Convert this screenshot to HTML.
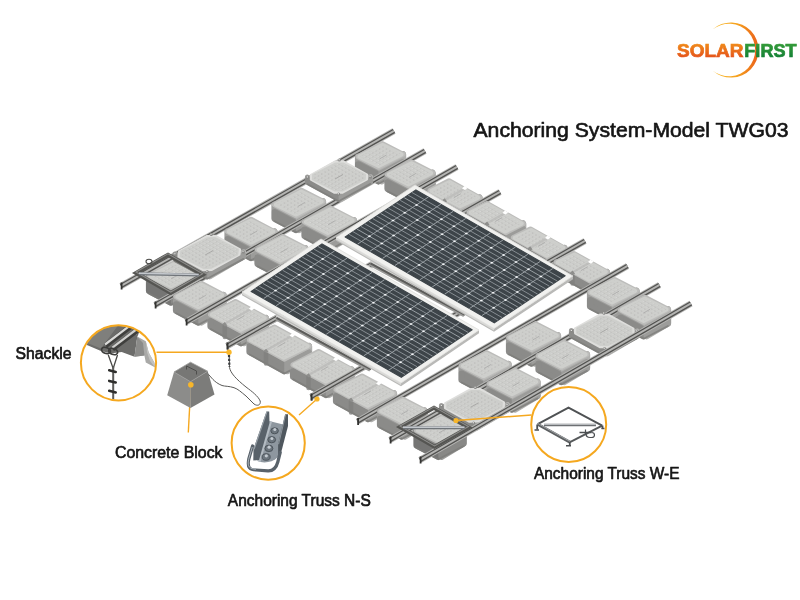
<!DOCTYPE html>
<html><head><meta charset="utf-8"><title>Anchoring System-Model TWG03</title>
<style>
html,body{margin:0;padding:0;background:#fff}
body{width:800px;height:600px;overflow:hidden;position:relative;font-family:"Liberation Sans",sans-serif;color:#1d1d1d}
svg{position:absolute;left:0;top:0;display:block;will-change:transform}
.t{position:absolute;white-space:nowrap;line-height:1;color:#1a1a1a}
</style></head><body>
<svg width="800" height="600" viewBox="0 0 800 600">
<defs>
<pattern id="dm" width="3.4" height="3.4" patternUnits="userSpaceOnUse" patternTransform="matrix(1,-0.568,1,0.575,121,286)"><rect x=".5" y=".5" width="2.1" height="2.1" rx=".6" fill="#c1c1bf"/><rect x=".5" y=".5" width="1.3" height="1.3" rx=".5" fill="#d8d8d6"/></pattern>
<linearGradient id="gL" x1="0" y1="0" x2="0" y2="1"><stop offset="0" stop-color="#b4b4b2"/><stop offset=".35" stop-color="#a2a2a0"/><stop offset="1" stop-color="#8a8a88"/></linearGradient>
<linearGradient id="gR" x1="0" y1="0" x2="0" y2="1"><stop offset="0" stop-color="#c4c4c2"/><stop offset=".4" stop-color="#b2b2b0"/><stop offset="1" stop-color="#939391"/></linearGradient>
<linearGradient id="lgO" x1="0" y1="0" x2="0" y2="1"><stop offset="0" stop-color="#f39a1a"/><stop offset="1" stop-color="#e2451b"/></linearGradient>
<linearGradient id="lgG" x1="0" y1="0" x2="0" y2="1"><stop offset="0" stop-color="#3da23a"/><stop offset="1" stop-color="#0c7a35"/></linearGradient>
<linearGradient id="lgA" x1="0" y1="0" x2="1" y2="0"><stop offset="0" stop-color="#f9bb2a"/><stop offset=".55" stop-color="#f5a01e"/><stop offset="1" stop-color="#ea5f1a"/></linearGradient>
<clipPath id="c1"><circle cx="118.5" cy="362.8" r="37"/></clipPath>
<clipPath id="c2"><circle cx="268.2" cy="443.1" r="36"/></clipPath>
<clipPath id="c3"><circle cx="568.7" cy="424.5" r="37"/></clipPath>
</defs>
<rect width="800" height="600" fill="#fff"/>
<!-- scene -->
<g stroke-linecap="butt"><path d="M121.0 286.0 L394.0 131.0" stroke="#b6b6b4" stroke-width="6.4"/><path d="M121.0 286.0 L394.0 131.0" stroke="#525250" stroke-width="4.5"/><path d="M121.0 285.9 L394.0 130.9" stroke="#b4b4b2" stroke-width="1.9"/><path d="M121.6 282.5 l0 7" stroke="#333331" stroke-width="1.8"/></g>
<g><polygon points="149.1,276.0 170.8,287.3 195.4,274.4 195.4,289.4 170.8,302.3 149.1,291.0" fill="#858583" stroke="#858583" stroke-width="6.4" stroke-linejoin="round"/><polygon points="174.0,287.3 195.4,274.4 195.4,289.4 174.0,302.3" fill="#9a9a98" stroke="#9a9a98" stroke-width="6.4" stroke-linejoin="round"/><polygon points="149.1,284.2 170.8,295.6 195.4,282.6 195.4,289.4 170.8,302.3 149.1,291.0" fill="#000" opacity=".11" stroke="#000" stroke-width="6.4" stroke-linejoin="round"/><polyline points="149.1,293.6 170.8,304.9 195.4,292.0" fill="none" stroke="#7c7c7a" stroke-width="1.8" stroke-linecap="round" stroke-linejoin="round" opacity=".75"/><polygon points="149.1,276.0 173.7,263.0 195.4,274.4 170.8,287.3" fill="#bdbdbb" stroke="#bdbdbb" stroke-width="5.2" stroke-linejoin="round"/><polygon points="150.4,276.0 173.5,264.3 194.1,274.4 171.0,286.0" fill="#cecfcc" stroke="#cecfcc" stroke-width="4.2" stroke-linejoin="round"/><polygon points="150.3,276.0 173.6,264.2 194.2,274.4 170.9,286.1" fill="url(#dm)"/><path d="M171.2 278.7 l7 -4" stroke="#adadab" stroke-width=".9"/></g>
<g><polygon points="358.1,156.7 378.4,167.2 402.9,154.3 402.9,168.3 378.4,181.2 358.1,170.7" fill="#9d9d9b" stroke="#9d9d9b" stroke-width="6.4" stroke-linejoin="round"/><polygon points="381.6,167.2 402.9,154.3 402.9,168.3 381.6,181.2" fill="#b0b0ae" stroke="#b0b0ae" stroke-width="6.4" stroke-linejoin="round"/><polygon points="358.1,164.4 378.4,174.9 402.9,162.0 402.9,168.3 378.4,181.2 358.1,170.7" fill="#000" opacity=".11" stroke="#000" stroke-width="6.4" stroke-linejoin="round"/><polyline points="358.1,173.3 378.4,183.8 402.9,170.9" fill="none" stroke="#7c7c7a" stroke-width="1.8" stroke-linecap="round" stroke-linejoin="round" opacity=".75"/><polygon points="358.1,156.7 382.6,143.7 402.9,154.3 378.4,167.2" fill="#bdbdbb" stroke="#bdbdbb" stroke-width="5.2" stroke-linejoin="round"/><polygon points="359.4,156.6 382.3,145.0 401.6,154.3 378.7,165.9" fill="#cecfcc" stroke="#cecfcc" stroke-width="4.2" stroke-linejoin="round"/><polygon points="359.3,156.6 382.3,144.9 401.7,154.3 378.7,166.0" fill="url(#dm)"/><path d="M379.5 159.0 l7 -4" stroke="#adadab" stroke-width=".9"/></g>
<g><polygon points="274.6,204.6 296.0,215.8 322.9,201.4 322.9,215.4 296.0,229.8 274.6,218.6" fill="#9d9d9b" stroke="#9d9d9b" stroke-width="6.4" stroke-linejoin="round"/><polygon points="299.2,215.8 322.9,201.4 322.9,215.4 299.2,229.8" fill="#b0b0ae" stroke="#b0b0ae" stroke-width="6.4" stroke-linejoin="round"/><polygon points="274.6,212.3 296.0,223.5 322.9,209.1 322.9,215.4 296.0,229.8 274.6,218.6" fill="#000" opacity=".11" stroke="#000" stroke-width="6.4" stroke-linejoin="round"/><polyline points="274.6,221.2 296.0,232.4 322.9,218.0" fill="none" stroke="#7c7c7a" stroke-width="1.8" stroke-linecap="round" stroke-linejoin="round" opacity=".75"/><polygon points="274.6,204.6 301.5,190.3 322.9,201.4 296.0,215.8" fill="#bdbdbb" stroke="#bdbdbb" stroke-width="5.2" stroke-linejoin="round"/><polygon points="275.9,204.5 301.2,191.6 321.6,201.5 296.3,214.5" fill="#cecfcc" stroke="#cecfcc" stroke-width="4.2" stroke-linejoin="round"/><polygon points="275.8,204.6 301.2,191.5 321.7,201.5 296.3,214.6" fill="url(#dm)"/><path d="M297.8 206.5 l7 -4" stroke="#adadab" stroke-width=".9"/></g>
<g><polygon points="227.6,231.5 251.0,243.8 274.4,231.7 274.4,245.7 251.0,257.9 227.6,245.5" fill="#9d9d9b" stroke="#9d9d9b" stroke-width="6.4" stroke-linejoin="round"/><polygon points="254.2,243.8 274.4,231.7 274.4,245.7 254.2,257.9" fill="#b0b0ae" stroke="#b0b0ae" stroke-width="6.4" stroke-linejoin="round"/><polygon points="227.6,239.2 251.0,251.5 274.4,239.4 274.4,245.7 251.0,257.9 227.6,245.5" fill="#000" opacity=".11" stroke="#000" stroke-width="6.4" stroke-linejoin="round"/><polyline points="227.6,248.1 251.0,260.4 274.4,248.3" fill="none" stroke="#7c7c7a" stroke-width="1.8" stroke-linecap="round" stroke-linejoin="round" opacity=".75"/><polygon points="227.6,231.5 251.0,219.3 274.4,231.7 251.0,243.8" fill="#bdbdbb" stroke="#bdbdbb" stroke-width="5.2" stroke-linejoin="round"/><polygon points="228.9,231.5 251.0,220.6 273.1,231.7 251.0,242.5" fill="#cecfcc" stroke="#cecfcc" stroke-width="4.2" stroke-linejoin="round"/><polygon points="228.8,231.5 251.0,220.5 273.2,231.7 251.0,242.6" fill="url(#dm)"/><path d="M250.0 235.1 l7 -4" stroke="#adadab" stroke-width=".9"/></g>
<g stroke-linecap="butt"><path d="M155.0 305.0 L425.0 151.0" stroke="#b6b6b4" stroke-width="6.4"/><path d="M155.0 305.0 L425.0 151.0" stroke="#525250" stroke-width="4.5"/><path d="M155.0 304.9 L425.0 150.9" stroke="#b4b4b2" stroke-width="1.9"/><path d="M155.6 301.5 l0 7" stroke="#333331" stroke-width="1.8"/></g>
<g><polygon points="307.5,177.2 338.6,194.2 370.5,176.9 370.5,181.9 338.6,199.2 307.5,182.2" fill="#9d9d9b" stroke="#9d9d9b" stroke-width="5.2" stroke-linejoin="round"/><polygon points="341.2,194.2 370.5,176.9 370.5,181.9 341.2,199.2" fill="#b0b0ae" stroke="#b0b0ae" stroke-width="5.2" stroke-linejoin="round"/><polygon points="307.5,179.9 338.6,196.9 370.5,179.6 370.5,181.9 338.6,199.2 307.5,182.2" fill="#000" opacity=".11" stroke="#000" stroke-width="5.2" stroke-linejoin="round"/><polyline points="307.5,184.2 338.6,201.2 370.5,183.9" fill="none" stroke="#7c7c7a" stroke-width="1.8" stroke-linecap="round" stroke-linejoin="round" opacity=".75"/><polygon points="310.8,179.6 310.9,174.8 335.3,161.4 343.5,161.3 367.2,174.5 367.1,179.3 342.7,192.7 334.5,192.8" fill="#dededc" stroke="#dededc" stroke-width="2" stroke-linejoin="round"/><polygon points="313.0,179.4 313.1,174.9 335.8,163.5 342.9,163.4 365.0,174.7 364.9,179.1 342.2,190.6 335.1,190.6" fill="#cecfcc" stroke="#cecfcc" stroke-width="2" stroke-linejoin="round"/><polygon points="313.2,179.4 313.3,175.0 335.9,163.7 342.9,163.6 364.8,174.7 364.7,179.1 342.1,190.4 335.1,190.4" fill="url(#dm)"/><circle cx="307.7" cy="177.2" r="1.5" fill="#868684"/><circle cx="307.4" cy="176.9" r=".7" fill="#e4e4e2"/><circle cx="339.4" cy="160.1" r="1.5" fill="#868684"/><circle cx="339.1" cy="159.8" r=".7" fill="#e4e4e2"/><circle cx="370.3" cy="176.9" r="1.5" fill="#868684"/><circle cx="370.0" cy="176.6" r=".7" fill="#e4e4e2"/><circle cx="338.6" cy="194.0" r="1.5" fill="#868684"/><circle cx="338.3" cy="193.7" r=".7" fill="#e4e4e2"/><path d="M335.0 179.0 l8 -4.5" stroke="#a9a9a7" stroke-width="1"/></g>
<g><polygon points="175.0,254.1 207.2,271.7 243.5,251.9 243.5,256.9 207.2,276.7 175.0,259.1" fill="#9d9d9b" stroke="#9d9d9b" stroke-width="5.2" stroke-linejoin="round"/><polygon points="209.8,271.7 243.5,251.9 243.5,256.9 209.8,276.7" fill="#b0b0ae" stroke="#b0b0ae" stroke-width="5.2" stroke-linejoin="round"/><polygon points="175.0,256.9 207.2,274.5 243.5,254.7 243.5,256.9 207.2,276.7 175.0,259.1" fill="#000" opacity=".11" stroke="#000" stroke-width="5.2" stroke-linejoin="round"/><polyline points="175.0,261.1 207.2,278.7 243.5,258.9" fill="none" stroke="#7c7c7a" stroke-width="1.8" stroke-linecap="round" stroke-linejoin="round" opacity=".75"/><polygon points="178.4,256.6 179.0,251.4 206.6,236.1 215.6,235.8 240.1,249.4 239.5,254.6 211.9,269.9 202.9,270.2" fill="#dededc" stroke="#dededc" stroke-width="2" stroke-linejoin="round"/><polygon points="180.6,256.3 181.2,251.5 207.0,238.3 214.8,237.9 237.9,249.7 237.3,254.5 211.5,267.7 203.7,268.2" fill="#cecfcc" stroke="#cecfcc" stroke-width="2" stroke-linejoin="round"/><polygon points="180.8,256.3 181.4,251.5 207.0,238.5 214.7,238.0 237.7,249.7 237.1,254.5 211.5,267.5 203.8,268.0" fill="url(#dm)"/><circle cx="175.2" cy="254.1" r="1.5" fill="#868684"/><circle cx="174.9" cy="253.8" r=".7" fill="#e4e4e2"/><circle cx="211.3" cy="234.5" r="1.5" fill="#868684"/><circle cx="211.0" cy="234.2" r=".7" fill="#e4e4e2"/><circle cx="243.3" cy="251.9" r="1.5" fill="#868684"/><circle cx="243.0" cy="251.6" r=".7" fill="#e4e4e2"/><circle cx="207.2" cy="271.5" r="1.5" fill="#868684"/><circle cx="206.9" cy="271.2" r=".7" fill="#e4e4e2"/><path d="M205.2 255.0 l8 -4.5" stroke="#a9a9a7" stroke-width="1"/></g>
<g><polygon points="136.0,272.9 168.0,254.7 202.7,274.7 170.7,292.9" fill="none" stroke="#555552" stroke-width="4" stroke-linejoin="miter"/><polygon points="136.0,272.0 168.0,253.8 202.7,273.8 170.7,292.0" fill="none" stroke="#8c8c8a" stroke-width="1.1" stroke-linejoin="miter"/><path d="M139.0 273.7 L198.7 275.0" stroke="#70757a" stroke-width="3"/><path d="M139.0 273.2 L198.7 274.5" stroke="#c3c7cc" stroke-width="1.4"/></g>
<g><polygon points="387.6,174.8 408.4,185.6 432.4,172.9 432.4,186.9 408.4,199.6 387.6,188.8" fill="#9d9d9b" stroke="#9d9d9b" stroke-width="6.4" stroke-linejoin="round"/><polygon points="411.6,185.6 432.4,172.9 432.4,186.9 411.6,199.6" fill="#b0b0ae" stroke="#b0b0ae" stroke-width="6.4" stroke-linejoin="round"/><polygon points="387.6,182.5 408.4,193.3 432.4,180.6 432.4,186.9 408.4,199.6 387.6,188.8" fill="#000" opacity=".11" stroke="#000" stroke-width="6.4" stroke-linejoin="round"/><polyline points="387.6,191.4 408.4,202.2 432.4,189.5" fill="none" stroke="#7c7c7a" stroke-width="1.8" stroke-linecap="round" stroke-linejoin="round" opacity=".75"/><polygon points="387.6,174.8 411.6,162.1 432.4,172.9 408.4,185.6" fill="#bdbdbb" stroke="#bdbdbb" stroke-width="5.2" stroke-linejoin="round"/><polygon points="388.9,174.7 411.5,163.4 431.1,173.0 408.5,184.3" fill="#cecfcc" stroke="#cecfcc" stroke-width="4.2" stroke-linejoin="round"/><polygon points="388.8,174.7 411.5,163.3 431.2,173.0 408.5,184.4" fill="url(#dm)"/><path d="M409.0 177.4 l7 -4" stroke="#adadab" stroke-width=".9"/></g>
<g><polygon points="304.6,222.0 327.8,234.1 353.9,220.3 353.9,234.3 327.8,248.1 304.6,236.0" fill="#9d9d9b" stroke="#9d9d9b" stroke-width="6.4" stroke-linejoin="round"/><polygon points="331.0,234.1 353.9,220.3 353.9,234.3 331.0,248.1" fill="#b0b0ae" stroke="#b0b0ae" stroke-width="6.4" stroke-linejoin="round"/><polygon points="304.6,229.7 327.8,241.8 353.9,228.0 353.9,234.3 327.8,248.1 304.6,236.0" fill="#000" opacity=".11" stroke="#000" stroke-width="6.4" stroke-linejoin="round"/><polyline points="304.6,238.6 327.8,250.7 353.9,236.9" fill="none" stroke="#7c7c7a" stroke-width="1.8" stroke-linecap="round" stroke-linejoin="round" opacity=".75"/><polygon points="304.6,222.0 330.7,208.2 353.9,220.3 327.8,234.1" fill="#bdbdbb" stroke="#bdbdbb" stroke-width="5.2" stroke-linejoin="round"/><polygon points="305.9,221.9 330.6,209.5 352.6,220.4 327.9,232.8" fill="#cecfcc" stroke="#cecfcc" stroke-width="4.2" stroke-linejoin="round"/><polygon points="305.8,221.9 330.6,209.4 352.7,220.4 327.9,232.9" fill="url(#dm)"/><path d="M328.2 224.6 l7 -4" stroke="#adadab" stroke-width=".9"/></g>
<g><polygon points="257.6,249.8 280.3,261.7 305.4,248.4 305.4,262.4 280.3,275.7 257.6,263.8" fill="#9d9d9b" stroke="#9d9d9b" stroke-width="6.4" stroke-linejoin="round"/><polygon points="283.5,261.7 305.4,248.4 305.4,262.4 283.5,275.7" fill="#b0b0ae" stroke="#b0b0ae" stroke-width="6.4" stroke-linejoin="round"/><polygon points="257.6,257.5 280.3,269.4 305.4,256.1 305.4,262.4 280.3,275.7 257.6,263.8" fill="#000" opacity=".11" stroke="#000" stroke-width="6.4" stroke-linejoin="round"/><polyline points="257.6,266.4 280.3,278.3 305.4,265.0" fill="none" stroke="#7c7c7a" stroke-width="1.8" stroke-linecap="round" stroke-linejoin="round" opacity=".75"/><polygon points="257.6,249.8 282.7,236.6 305.4,248.4 280.3,261.7" fill="#bdbdbb" stroke="#bdbdbb" stroke-width="5.2" stroke-linejoin="round"/><polygon points="258.9,249.8 282.6,237.9 304.1,248.5 280.4,260.4" fill="#cecfcc" stroke="#cecfcc" stroke-width="4.2" stroke-linejoin="round"/><polygon points="258.8,249.8 282.6,237.8 304.2,248.5 280.4,260.5" fill="url(#dm)"/><path d="M280.5 252.6 l7 -4" stroke="#adadab" stroke-width=".9"/></g>
<g><polygon points="176.1,296.7 198.3,308.3 223.4,295.0 223.4,309.0 198.3,322.3 176.1,310.7" fill="#9d9d9b" stroke="#9d9d9b" stroke-width="6.4" stroke-linejoin="round"/><polygon points="201.5,308.3 223.4,295.0 223.4,309.0 201.5,322.3" fill="#b0b0ae" stroke="#b0b0ae" stroke-width="6.4" stroke-linejoin="round"/><polygon points="176.1,304.4 198.3,316.0 223.4,302.7 223.4,309.0 198.3,322.3 176.1,310.7" fill="#000" opacity=".11" stroke="#000" stroke-width="6.4" stroke-linejoin="round"/><polyline points="176.1,313.3 198.3,324.9 223.4,311.6" fill="none" stroke="#7c7c7a" stroke-width="1.8" stroke-linecap="round" stroke-linejoin="round" opacity=".75"/><polygon points="176.1,296.7 201.2,283.4 223.4,295.0 198.3,308.3" fill="#bdbdbb" stroke="#bdbdbb" stroke-width="5.2" stroke-linejoin="round"/><polygon points="177.4,296.6 201.0,284.7 222.1,295.1 198.5,307.0" fill="#cecfcc" stroke="#cecfcc" stroke-width="4.2" stroke-linejoin="round"/><polygon points="177.3,296.6 201.1,284.6 222.2,295.1 198.4,307.1" fill="url(#dm)"/><path d="M198.8 299.3 l7 -4" stroke="#adadab" stroke-width=".9"/></g>
<g stroke-linecap="butt"><path d="M186.0 322.0 L457.0 167.0" stroke="#b6b6b4" stroke-width="6.4"/><path d="M186.0 322.0 L457.0 167.0" stroke="#525250" stroke-width="4.5"/><path d="M186.0 321.9 L457.0 166.9" stroke="#b4b4b2" stroke-width="1.9"/><path d="M186.6 318.5 l0 7" stroke="#333331" stroke-width="1.8"/></g>
<g><polygon points="430.1,190.6 460.5,207.4 479.4,197.7 479.4,207.7 460.5,217.4 430.1,200.6" fill="#9d9d9b" stroke="#9d9d9b" stroke-width="6.4" stroke-linejoin="round"/><polygon points="463.7,207.4 479.4,197.7 479.4,207.7 463.7,217.4" fill="#b0b0ae" stroke="#b0b0ae" stroke-width="6.4" stroke-linejoin="round"/><polygon points="430.1,196.1 460.5,212.9 479.4,203.2 479.4,207.7 460.5,217.4 430.1,200.6" fill="#000" opacity=".11" stroke="#000" stroke-width="6.4" stroke-linejoin="round"/><polyline points="430.1,203.2 460.5,220.0 479.4,210.3" fill="none" stroke="#7c7c7a" stroke-width="1.8" stroke-linecap="round" stroke-linejoin="round" opacity=".75"/><path d="M444.5 202.0 l0 9.0" stroke="#80807e" stroke-width="4.5" stroke-linecap="round" opacity=".8"/><polygon points="430.1,190.6 449.0,180.9 479.4,197.7 460.5,207.4" fill="#bdbdbb" stroke="#bdbdbb" stroke-width="5.2" stroke-linejoin="round"/><polygon points="431.4,190.8 449.5,182.1 478.1,197.5 460.0,206.2" fill="#cecfcc" stroke="#cecfcc" stroke-width="4.2" stroke-linejoin="round"/><polygon points="431.3,190.7 449.5,182.0 478.2,197.6 460.0,206.3" fill="url(#dm)"/><path d="M444.5 200.0 L465.0 188.3" stroke="#b9b9b7" stroke-width="2.2" opacity=".7"/><path d="M464.4 186.1 l3.2 1.8 l-2.6 2.2 l-3 -1.6z" fill="#fff"/><path d="M442.1 200.2 l2.6 -2 l2.4 3.4 l-2.4 1z" fill="#8e8e8c"/><path d="M453.8 197.7 l7 -4" stroke="#adadab" stroke-width=".9"/></g>
<g stroke-linecap="butt"><path d="M227.0 346.0 L500.0 192.0" stroke="#b6b6b4" stroke-width="6.4"/><path d="M227.0 346.0 L500.0 192.0" stroke="#525250" stroke-width="4.5"/><path d="M227.0 345.9 L500.0 191.9" stroke="#b4b4b2" stroke-width="1.9"/><path d="M227.6 342.5 l0 7" stroke="#333331" stroke-width="1.8"/></g>
<g><polygon points="469.5,212.3 505.6,232.6 523.0,223.7 523.0,233.7 505.6,242.6 469.5,222.3" fill="#9d9d9b" stroke="#9d9d9b" stroke-width="6.4" stroke-linejoin="round"/><polygon points="508.8,232.6 523.0,223.7 523.0,233.7 508.8,242.6" fill="#b0b0ae" stroke="#b0b0ae" stroke-width="6.4" stroke-linejoin="round"/><polygon points="469.5,217.8 505.6,238.1 523.0,229.2 523.0,233.7 505.6,242.6 469.5,222.3" fill="#000" opacity=".11" stroke="#000" stroke-width="6.4" stroke-linejoin="round"/><polyline points="469.5,224.9 505.6,245.2 523.0,236.3" fill="none" stroke="#7c7c7a" stroke-width="1.8" stroke-linecap="round" stroke-linejoin="round" opacity=".75"/><path d="M487.0 225.3 l0 9.0" stroke="#80807e" stroke-width="4.5" stroke-linecap="round" opacity=".8"/><polygon points="469.5,212.3 486.9,203.5 523.0,223.7 505.6,232.6" fill="#bdbdbb" stroke="#bdbdbb" stroke-width="5.2" stroke-linejoin="round"/><polygon points="470.8,212.6 487.6,204.5 521.7,223.5 504.9,231.5" fill="#cecfcc" stroke="#cecfcc" stroke-width="4.2" stroke-linejoin="round"/><polygon points="470.7,212.6 487.6,204.5 521.8,223.5 504.9,231.6" fill="url(#dm)"/><path d="M487.0 223.3 L505.5 212.8" stroke="#b9b9b7" stroke-width="2.2" opacity=".7"/><path d="M504.9 210.6 l3.2 1.8 l-2.6 2.2 l-3 -1.6z" fill="#fff"/><path d="M484.6 223.5 l2.6 -2 l2.4 3.4 l-2.4 1z" fill="#8e8e8c"/><path d="M495.2 221.5 l7 -4" stroke="#adadab" stroke-width=".9"/></g>
<g><polygon points="513.5,237.6 547.6,256.7 564.5,248.2 564.5,258.2 547.6,266.7 513.5,247.6" fill="#9d9d9b" stroke="#9d9d9b" stroke-width="6.4" stroke-linejoin="round"/><polygon points="550.8,256.7 564.5,248.2 564.5,258.2 550.8,266.7" fill="#b0b0ae" stroke="#b0b0ae" stroke-width="6.4" stroke-linejoin="round"/><polygon points="513.5,243.1 547.6,262.2 564.5,253.7 564.5,258.2 547.6,266.7 513.5,247.6" fill="#000" opacity=".11" stroke="#000" stroke-width="6.4" stroke-linejoin="round"/><polyline points="513.5,250.2 547.6,269.3 564.5,260.8" fill="none" stroke="#7c7c7a" stroke-width="1.8" stroke-linecap="round" stroke-linejoin="round" opacity=".75"/><path d="M530.0 250.0 l0 9.0" stroke="#80807e" stroke-width="4.5" stroke-linecap="round" opacity=".8"/><polygon points="513.5,237.6 530.4,229.1 564.5,248.2 547.6,256.7" fill="#bdbdbb" stroke="#bdbdbb" stroke-width="5.2" stroke-linejoin="round"/><polygon points="514.8,237.9 531.1,230.2 563.2,247.9 546.9,255.6" fill="#cecfcc" stroke="#cecfcc" stroke-width="4.2" stroke-linejoin="round"/><polygon points="514.7,237.8 531.0,230.1 563.3,247.9 547.0,255.7" fill="url(#dm)"/><path d="M530.0 248.0 L548.0 237.8" stroke="#b9b9b7" stroke-width="2.2" opacity=".7"/><path d="M547.4 235.6 l3.2 1.8 l-2.6 2.2 l-3 -1.6z" fill="#fff"/><path d="M527.6 248.2 l2.6 -2 l2.4 3.4 l-2.4 1z" fill="#8e8e8c"/><path d="M538.0 246.4 l7 -4" stroke="#adadab" stroke-width=".9"/></g>
<g stroke-linecap="butt"><path d="M311.0 397.0 L585.0 241.0" stroke="#b6b6b4" stroke-width="6.4"/><path d="M311.0 397.0 L585.0 241.0" stroke="#525250" stroke-width="4.5"/><path d="M311.0 396.9 L585.0 240.9" stroke="#b4b4b2" stroke-width="1.9"/><path d="M311.6 393.5 l0 7" stroke="#333331" stroke-width="1.8"/></g>
<g><polygon points="556.6,262.3 589.7,280.8 606.9,272.1 606.9,282.1 589.7,290.8 556.6,272.3" fill="#9d9d9b" stroke="#9d9d9b" stroke-width="6.4" stroke-linejoin="round"/><polygon points="592.9,280.8 606.9,272.1 606.9,282.1 592.9,290.8" fill="#b0b0ae" stroke="#b0b0ae" stroke-width="6.4" stroke-linejoin="round"/><polygon points="556.6,267.8 589.7,286.3 606.9,277.6 606.9,282.1 589.7,290.8 556.6,272.3" fill="#000" opacity=".11" stroke="#000" stroke-width="6.4" stroke-linejoin="round"/><polyline points="556.6,274.9 589.7,293.4 606.9,284.7" fill="none" stroke="#7c7c7a" stroke-width="1.8" stroke-linecap="round" stroke-linejoin="round" opacity=".75"/><path d="M572.5 274.4 l0 9.0" stroke="#80807e" stroke-width="4.5" stroke-linecap="round" opacity=".8"/><polygon points="556.6,262.3 573.8,253.5 606.9,272.1 589.7,280.8" fill="#bdbdbb" stroke="#bdbdbb" stroke-width="5.2" stroke-linejoin="round"/><polygon points="557.8,262.5 574.5,254.7 605.7,271.8 589.0,279.7" fill="#cecfcc" stroke="#cecfcc" stroke-width="4.2" stroke-linejoin="round"/><polygon points="557.7,262.5 574.4,254.6 605.8,271.8 589.1,279.8" fill="url(#dm)"/><path d="M572.5 272.4 L591.0 261.9" stroke="#b9b9b7" stroke-width="2.2" opacity=".7"/><path d="M590.4 259.7 l3.2 1.8 l-2.6 2.2 l-3 -1.6z" fill="#fff"/><path d="M570.1 272.6 l2.6 -2 l2.4 3.4 l-2.4 1z" fill="#8e8e8c"/><path d="M580.8 270.7 l7 -4" stroke="#adadab" stroke-width=".9"/></g>
<g><polygon points="210.6,314.5 241.0,331.0 265.9,318.1 265.9,330.1 241.0,343.0 210.6,326.5" fill="#9d9d9b" stroke="#9d9d9b" stroke-width="6.4" stroke-linejoin="round"/><polygon points="244.2,331.0 265.9,318.1 265.9,330.1 244.2,343.0" fill="#b0b0ae" stroke="#b0b0ae" stroke-width="6.4" stroke-linejoin="round"/><polygon points="210.6,321.1 241.0,337.6 265.9,324.7 265.9,330.1 241.0,343.0 210.6,326.5" fill="#000" opacity=".11" stroke="#000" stroke-width="6.4" stroke-linejoin="round"/><polyline points="210.6,329.1 241.0,345.6 265.9,332.7" fill="none" stroke="#7c7c7a" stroke-width="1.8" stroke-linecap="round" stroke-linejoin="round" opacity=".75"/><path d="M224.8 325.9 l0 11.0" stroke="#80807e" stroke-width="4.5" stroke-linecap="round" opacity=".8"/><polygon points="210.6,314.5 235.5,301.5 265.9,318.1 241.0,331.0" fill="#bdbdbb" stroke="#bdbdbb" stroke-width="5.2" stroke-linejoin="round"/><polygon points="211.9,314.6 235.7,302.8 264.6,318.0 240.8,329.7" fill="#cecfcc" stroke="#cecfcc" stroke-width="4.2" stroke-linejoin="round"/><polygon points="211.8,314.6 235.7,302.7 264.7,318.0 240.8,329.8" fill="url(#dm)"/><path d="M224.8 323.9 L251.8 308.6" stroke="#b9b9b7" stroke-width="2.2" opacity=".7"/><path d="M251.2 306.4 l3.2 1.8 l-2.6 2.2 l-3 -1.6z" fill="#fff"/><path d="M222.3 324.1 l2.6 -2 l2.4 3.4 l-2.4 1z" fill="#8e8e8c"/><path d="M237.2 319.8 l7 -4" stroke="#adadab" stroke-width=".9"/></g>
<g stroke-linecap="butt"><path d="M227.0 346.0 L287.0 312.2" stroke="#b6b6b4" stroke-width="6.4"/><path d="M227.0 346.0 L287.0 312.2" stroke="#525250" stroke-width="4.5"/><path d="M227.0 345.9 L287.0 312.1" stroke="#b4b4b2" stroke-width="1.9"/><path d="M227.6 342.5 l0 7" stroke="#333331" stroke-width="1.8"/></g>
<g><polygon points="249.6,339.9 284.2,359.0 308.9,346.1 308.9,358.1 284.2,371.0 249.6,351.9" fill="#9d9d9b" stroke="#9d9d9b" stroke-width="6.4" stroke-linejoin="round"/><polygon points="287.4,359.0 308.9,346.1 308.9,358.1 287.4,371.0" fill="#b0b0ae" stroke="#b0b0ae" stroke-width="6.4" stroke-linejoin="round"/><polygon points="249.6,346.5 284.2,365.6 308.9,352.7 308.9,358.1 284.2,371.0 249.6,351.9" fill="#000" opacity=".11" stroke="#000" stroke-width="6.4" stroke-linejoin="round"/><polyline points="249.6,354.5 284.2,373.6 308.9,360.7" fill="none" stroke="#7c7c7a" stroke-width="1.8" stroke-linecap="round" stroke-linejoin="round" opacity=".75"/><path d="M266.0 352.5 l0 11.0" stroke="#80807e" stroke-width="4.5" stroke-linecap="round" opacity=".8"/><polygon points="249.6,339.9 274.3,327.0 308.9,346.1 284.2,359.0" fill="#bdbdbb" stroke="#bdbdbb" stroke-width="5.2" stroke-linejoin="round"/><polygon points="250.9,340.0 274.7,328.3 307.6,346.0 283.8,357.7" fill="#cecfcc" stroke="#cecfcc" stroke-width="4.2" stroke-linejoin="round"/><polygon points="250.8,340.0 274.6,328.2 307.7,346.0 283.9,357.8" fill="url(#dm)"/><path d="M266.0 350.5 L292.5 335.5" stroke="#b9b9b7" stroke-width="2.2" opacity=".7"/><path d="M291.9 333.3 l3.2 1.8 l-2.6 2.2 l-3 -1.6z" fill="#fff"/><path d="M263.6 350.7 l2.6 -2 l2.4 3.4 l-2.4 1z" fill="#8e8e8c"/><path d="M278.2 346.5 l7 -4" stroke="#adadab" stroke-width=".9"/></g>
<g><polygon points="293.1,364.8 325.9,382.8 351.4,369.5 351.4,381.5 325.9,394.8 293.1,376.8" fill="#9d9d9b" stroke="#9d9d9b" stroke-width="6.4" stroke-linejoin="round"/><polygon points="329.1,382.8 351.4,369.5 351.4,381.5 329.1,394.8" fill="#b0b0ae" stroke="#b0b0ae" stroke-width="6.4" stroke-linejoin="round"/><polygon points="293.1,371.4 325.9,389.4 351.4,376.1 351.4,381.5 325.9,394.8 293.1,376.8" fill="#000" opacity=".11" stroke="#000" stroke-width="6.4" stroke-linejoin="round"/><polyline points="293.1,379.4 325.9,397.4 351.4,384.1" fill="none" stroke="#7c7c7a" stroke-width="1.8" stroke-linecap="round" stroke-linejoin="round" opacity=".75"/><path d="M308.5 377.0 l0 11.0" stroke="#80807e" stroke-width="4.5" stroke-linecap="round" opacity=".8"/><polygon points="293.1,364.8 318.6,351.5 351.4,369.5 325.9,382.8" fill="#bdbdbb" stroke="#bdbdbb" stroke-width="5.2" stroke-linejoin="round"/><polygon points="294.4,364.9 318.9,352.8 350.1,369.4 325.6,381.5" fill="#cecfcc" stroke="#cecfcc" stroke-width="4.2" stroke-linejoin="round"/><polygon points="294.3,364.9 318.9,352.7 350.2,369.4 325.6,381.6" fill="url(#dm)"/><path d="M308.5 375.0 L336.0 359.3" stroke="#b9b9b7" stroke-width="2.2" opacity=".7"/><path d="M335.4 357.1 l3.2 1.8 l-2.6 2.2 l-3 -1.6z" fill="#fff"/><path d="M306.1 375.2 l2.6 -2 l2.4 3.4 l-2.4 1z" fill="#8e8e8c"/><path d="M321.2 370.6 l7 -4" stroke="#adadab" stroke-width=".9"/></g>
<g stroke-linecap="butt"><path d="M311.0 397.0 L371.2 362.7" stroke="#b6b6b4" stroke-width="6.4"/><path d="M311.0 397.0 L371.2 362.7" stroke="#525250" stroke-width="4.5"/><path d="M311.0 396.9 L371.2 362.6" stroke="#b4b4b2" stroke-width="1.9"/><path d="M311.6 393.5 l0 7" stroke="#333331" stroke-width="1.8"/></g>
<g><polygon points="336.1,389.5 368.0,406.9 393.9,393.4 393.9,405.4 368.0,418.9 336.1,401.5" fill="#9d9d9b" stroke="#9d9d9b" stroke-width="6.4" stroke-linejoin="round"/><polygon points="371.2,406.9 393.9,393.4 393.9,405.4 371.2,418.9" fill="#b0b0ae" stroke="#b0b0ae" stroke-width="6.4" stroke-linejoin="round"/><polygon points="336.1,396.1 368.0,413.5 393.9,400.0 393.9,405.4 368.0,418.9 336.1,401.5" fill="#000" opacity=".11" stroke="#000" stroke-width="6.4" stroke-linejoin="round"/><polyline points="336.1,404.1 368.0,421.5 393.9,408.0" fill="none" stroke="#7c7c7a" stroke-width="1.8" stroke-linecap="round" stroke-linejoin="round" opacity=".75"/><path d="M351.0 401.4 l0 11.0" stroke="#80807e" stroke-width="4.5" stroke-linecap="round" opacity=".8"/><polygon points="336.1,389.5 362.0,376.0 393.9,393.4 368.0,406.9" fill="#bdbdbb" stroke="#bdbdbb" stroke-width="5.2" stroke-linejoin="round"/><polygon points="337.4,389.6 362.2,377.3 392.6,393.3 367.8,405.6" fill="#cecfcc" stroke="#cecfcc" stroke-width="4.2" stroke-linejoin="round"/><polygon points="337.3,389.6 362.2,377.2 392.7,393.3 367.8,405.7" fill="url(#dm)"/><path d="M351.0 399.4 L379.0 383.5" stroke="#b9b9b7" stroke-width="2.2" opacity=".7"/><path d="M378.4 381.3 l3.2 1.8 l-2.6 2.2 l-3 -1.6z" fill="#fff"/><path d="M348.6 399.6 l2.6 -2 l2.4 3.4 l-2.4 1z" fill="#8e8e8c"/><path d="M364.0 394.9 l7 -4" stroke="#adadab" stroke-width=".9"/></g>
<g><path d="M276.5 317.0 L371.0 368.5" stroke="#9a9a98" stroke-width="7"/><path d="M276.5 315.1 L371.0 366.6" stroke="#d3d3d1" stroke-width="3.2"/><path d="M276.5 317.8 L371.0 369.3" stroke="#5c5c5a" stroke-width="2.0"/></g>
<g><path d="M370.5 262.5 L465.0 314.0" stroke="#9a9a98" stroke-width="7"/><path d="M370.5 260.6 L465.0 312.1" stroke="#d3d3d1" stroke-width="3.2"/><path d="M370.5 263.3 L465.0 314.8" stroke="#5c5c5a" stroke-width="2.0"/></g>
<g><polygon points="336.0,237.5 494.0,328.5 573.0,276.0 573.0,279.2 494.0,331.7 336.0,240.7" fill="#b9b9b7"/><polygon points="336.0,237.5 494.0,328.5 494.0,330.5 336.0,239.5" fill="#d9d9d7"/><polygon points="336.0,237.5 415.0,185.0 573.0,276.0 494.0,328.5" fill="#f1f1ef" stroke="#dededc" stroke-width=".8"/><polygon points="345.2,236.9 415.9,189.9 565.1,275.8 494.3,322.8" fill="#3d4449" stroke="#3d4449" stroke-width="1.2" stroke-linejoin="round"/><path d="M349.1 234.3L498.2 320.2M353.0 231.7L502.2 317.6M360.9 226.4L510.0 312.3M364.8 223.8L514.0 309.7M372.7 218.6L521.8 304.5M376.6 216.0L525.8 301.9M384.5 210.8L533.6 296.7M388.4 208.2L537.6 294.1M396.3 202.9L545.4 288.8M400.2 200.3L549.4 286.2M408.1 195.1L557.2 281.0M412.0 192.5L561.2 278.4" stroke="#99a0a5" stroke-width=".8" fill="none"/><path d="M357.0 229.1L506.1 315.0M368.8 221.2L517.9 307.1M380.6 213.4L529.7 299.3M392.4 205.5L541.5 291.4M404.2 197.7L553.3 283.6M357.6 244.1L428.4 197.0M370.0 251.2L440.8 204.2M382.5 258.4L453.2 211.3M394.9 265.5L465.7 218.5M407.3 272.7L478.1 225.7M419.7 279.9L490.5 232.8M432.2 287.0L503.0 240.0M444.6 294.2L515.4 247.1M457.0 301.3L527.8 254.3M469.5 308.5L540.2 261.4M481.9 315.6L552.7 268.6" stroke="#a3a9ae" stroke-width=".9" fill="none"/><path d="M367.7 236.2l1.7 -1 1.7 1 -1.7 1zM380.1 243.4l1.7 -1 1.7 1 -1.7 1zM392.5 250.5l1.7 -1 1.7 1 -1.7 1zM405.0 257.7l1.7 -1 1.7 1 -1.7 1zM417.4 264.9l1.7 -1 1.7 1 -1.7 1zM429.8 272.0l1.7 -1 1.7 1 -1.7 1zM442.3 279.2l1.7 -1 1.7 1 -1.7 1zM454.7 286.3l1.7 -1 1.7 1 -1.7 1zM467.1 293.5l1.7 -1 1.7 1 -1.7 1zM479.6 300.6l1.7 -1 1.7 1 -1.7 1zM492.0 307.8l1.7 -1 1.7 1 -1.7 1zM379.5 228.4l1.7 -1 1.7 1 -1.7 1zM391.9 235.5l1.7 -1 1.7 1 -1.7 1zM404.3 242.7l1.7 -1 1.7 1 -1.7 1zM416.8 249.9l1.7 -1 1.7 1 -1.7 1zM429.2 257.0l1.7 -1 1.7 1 -1.7 1zM441.6 264.2l1.7 -1 1.7 1 -1.7 1zM454.1 271.3l1.7 -1 1.7 1 -1.7 1zM466.5 278.5l1.7 -1 1.7 1 -1.7 1zM478.9 285.6l1.7 -1 1.7 1 -1.7 1zM491.4 292.8l1.7 -1 1.7 1 -1.7 1zM503.8 300.0l1.7 -1 1.7 1 -1.7 1zM391.3 220.5l1.7 -1 1.7 1 -1.7 1zM403.7 227.7l1.7 -1 1.7 1 -1.7 1zM416.1 234.9l1.7 -1 1.7 1 -1.7 1zM428.6 242.0l1.7 -1 1.7 1 -1.7 1zM441.0 249.2l1.7 -1 1.7 1 -1.7 1zM453.4 256.3l1.7 -1 1.7 1 -1.7 1zM465.9 263.5l1.7 -1 1.7 1 -1.7 1zM478.3 270.6l1.7 -1 1.7 1 -1.7 1zM490.7 277.8l1.7 -1 1.7 1 -1.7 1zM503.1 285.0l1.7 -1 1.7 1 -1.7 1zM515.6 292.1l1.7 -1 1.7 1 -1.7 1zM403.1 212.7l1.7 -1 1.7 1 -1.7 1zM415.5 219.9l1.7 -1 1.7 1 -1.7 1zM427.9 227.0l1.7 -1 1.7 1 -1.7 1zM440.4 234.2l1.7 -1 1.7 1 -1.7 1zM452.8 241.3l1.7 -1 1.7 1 -1.7 1zM465.2 248.5l1.7 -1 1.7 1 -1.7 1zM477.7 255.6l1.7 -1 1.7 1 -1.7 1zM490.1 262.8l1.7 -1 1.7 1 -1.7 1zM502.5 270.0l1.7 -1 1.7 1 -1.7 1zM514.9 277.1l1.7 -1 1.7 1 -1.7 1zM527.4 284.3l1.7 -1 1.7 1 -1.7 1zM414.9 204.9l1.7 -1 1.7 1 -1.7 1zM427.3 212.0l1.7 -1 1.7 1 -1.7 1zM439.7 219.2l1.7 -1 1.7 1 -1.7 1zM452.2 226.3l1.7 -1 1.7 1 -1.7 1zM464.6 233.5l1.7 -1 1.7 1 -1.7 1zM477.0 240.7l1.7 -1 1.7 1 -1.7 1zM489.5 247.8l1.7 -1 1.7 1 -1.7 1zM501.9 255.0l1.7 -1 1.7 1 -1.7 1zM514.3 262.1l1.7 -1 1.7 1 -1.7 1zM526.7 269.3l1.7 -1 1.7 1 -1.7 1zM539.2 276.4l1.7 -1 1.7 1 -1.7 1z" fill="#f4f6f8"/></g>
<g><polygon points="242.0,292.0 401.0,383.0 479.0,330.0 479.0,333.2 401.0,386.2 242.0,295.2" fill="#b9b9b7"/><polygon points="242.0,292.0 401.0,383.0 401.0,385.0 242.0,294.0" fill="#d9d9d7"/><polygon points="242.0,292.0 321.0,239.0 479.0,330.0 401.0,383.0" fill="#f1f1ef" stroke="#dededc" stroke-width=".8"/><polygon points="251.2,291.4 322.0,243.9 472.1,329.8 401.3,377.3" fill="#3d4449" stroke="#3d4449" stroke-width="1.2" stroke-linejoin="round"/><path d="M255.1 288.7L405.2 374.6M259.1 286.1L409.2 372.0M266.9 280.8L417.0 366.7M270.9 278.2L421.0 364.1M278.7 272.9L428.8 358.8M282.7 270.3L432.7 356.2M290.5 265.0L440.6 350.9M294.4 262.3L444.5 348.3M302.3 257.1L452.4 343.0M306.2 254.4L456.3 340.3M314.1 249.2L464.2 335.1M318.0 246.5L468.1 332.4" stroke="#99a0a5" stroke-width=".8" fill="none"/><path d="M263.0 283.5L413.1 369.4M274.8 275.5L424.9 361.4M286.6 267.6L436.7 353.5M298.4 259.7L448.5 345.6M310.2 251.8L460.3 337.7M263.7 298.5L334.5 251.0M276.2 305.7L347.0 258.2M288.7 312.8L359.5 265.4M301.2 320.0L372.0 272.5M313.7 327.2L384.5 279.7M326.2 334.3L397.0 286.8M338.7 341.5L409.5 294.0M351.3 348.6L422.0 301.1M363.8 355.8L434.5 308.3M376.3 363.0L447.1 315.5M388.8 370.1L459.6 322.6" stroke="#a3a9ae" stroke-width=".9" fill="none"/><path d="M273.8 290.6l1.7 -1 1.7 1 -1.7 1zM286.3 297.8l1.7 -1 1.7 1 -1.7 1zM298.8 304.9l1.7 -1 1.7 1 -1.7 1zM311.3 312.1l1.7 -1 1.7 1 -1.7 1zM323.8 319.2l1.7 -1 1.7 1 -1.7 1zM336.3 326.4l1.7 -1 1.7 1 -1.7 1zM348.8 333.6l1.7 -1 1.7 1 -1.7 1zM361.4 340.7l1.7 -1 1.7 1 -1.7 1zM373.9 347.9l1.7 -1 1.7 1 -1.7 1zM386.4 355.0l1.7 -1 1.7 1 -1.7 1zM398.9 362.2l1.7 -1 1.7 1 -1.7 1zM285.6 282.7l1.7 -1 1.7 1 -1.7 1zM298.1 289.9l1.7 -1 1.7 1 -1.7 1zM310.6 297.0l1.7 -1 1.7 1 -1.7 1zM323.1 304.2l1.7 -1 1.7 1 -1.7 1zM335.6 311.3l1.7 -1 1.7 1 -1.7 1zM348.1 318.5l1.7 -1 1.7 1 -1.7 1zM360.6 325.6l1.7 -1 1.7 1 -1.7 1zM373.2 332.8l1.7 -1 1.7 1 -1.7 1zM385.7 340.0l1.7 -1 1.7 1 -1.7 1zM398.2 347.1l1.7 -1 1.7 1 -1.7 1zM410.7 354.3l1.7 -1 1.7 1 -1.7 1zM297.4 274.8l1.7 -1 1.7 1 -1.7 1zM309.9 281.9l1.7 -1 1.7 1 -1.7 1zM322.4 289.1l1.7 -1 1.7 1 -1.7 1zM334.9 296.3l1.7 -1 1.7 1 -1.7 1zM347.4 303.4l1.7 -1 1.7 1 -1.7 1zM359.9 310.6l1.7 -1 1.7 1 -1.7 1zM372.4 317.7l1.7 -1 1.7 1 -1.7 1zM384.9 324.9l1.7 -1 1.7 1 -1.7 1zM397.5 332.1l1.7 -1 1.7 1 -1.7 1zM410.0 339.2l1.7 -1 1.7 1 -1.7 1zM422.5 346.4l1.7 -1 1.7 1 -1.7 1zM309.2 266.9l1.7 -1 1.7 1 -1.7 1zM321.7 274.0l1.7 -1 1.7 1 -1.7 1zM334.2 281.2l1.7 -1 1.7 1 -1.7 1zM346.7 288.3l1.7 -1 1.7 1 -1.7 1zM359.2 295.5l1.7 -1 1.7 1 -1.7 1zM371.7 302.7l1.7 -1 1.7 1 -1.7 1zM384.2 309.8l1.7 -1 1.7 1 -1.7 1zM396.7 317.0l1.7 -1 1.7 1 -1.7 1zM409.3 324.1l1.7 -1 1.7 1 -1.7 1zM421.8 331.3l1.7 -1 1.7 1 -1.7 1zM434.3 338.5l1.7 -1 1.7 1 -1.7 1zM321.0 259.0l1.7 -1 1.7 1 -1.7 1zM333.5 266.1l1.7 -1 1.7 1 -1.7 1zM346.0 273.3l1.7 -1 1.7 1 -1.7 1zM358.5 280.4l1.7 -1 1.7 1 -1.7 1zM371.0 287.6l1.7 -1 1.7 1 -1.7 1zM383.5 294.7l1.7 -1 1.7 1 -1.7 1zM396.0 301.9l1.7 -1 1.7 1 -1.7 1zM408.5 309.1l1.7 -1 1.7 1 -1.7 1zM421.1 316.2l1.7 -1 1.7 1 -1.7 1zM433.6 323.4l1.7 -1 1.7 1 -1.7 1zM446.1 330.5l1.7 -1 1.7 1 -1.7 1z" fill="#f4f6f8"/></g>
<g stroke-linecap="butt"><path d="M357.5 421.5 L627.5 266.0" stroke="#b6b6b4" stroke-width="6.4"/><path d="M357.5 421.5 L627.5 266.0" stroke="#525250" stroke-width="4.5"/><path d="M357.5 421.4 L627.5 265.9" stroke="#b4b4b2" stroke-width="1.9"/><path d="M358.1 418.0 l0 7" stroke="#333331" stroke-width="1.8"/></g>
<g><polygon points="590.1,292.4 611.8,303.7 636.4,290.8 636.4,304.8 611.8,317.7 590.1,306.4" fill="#9d9d9b" stroke="#9d9d9b" stroke-width="6.4" stroke-linejoin="round"/><polygon points="615.0,303.7 636.4,290.8 636.4,304.8 615.0,317.7" fill="#b0b0ae" stroke="#b0b0ae" stroke-width="6.4" stroke-linejoin="round"/><polygon points="590.1,300.1 611.8,311.4 636.4,298.5 636.4,304.8 611.8,317.7 590.1,306.4" fill="#000" opacity=".11" stroke="#000" stroke-width="6.4" stroke-linejoin="round"/><polyline points="590.1,309.0 611.8,320.3 636.4,307.4" fill="none" stroke="#7c7c7a" stroke-width="1.8" stroke-linecap="round" stroke-linejoin="round" opacity=".75"/><polygon points="590.1,292.4 614.7,279.5 636.4,290.8 611.8,303.7" fill="#bdbdbb" stroke="#bdbdbb" stroke-width="5.2" stroke-linejoin="round"/><polygon points="591.4,292.4 614.5,280.7 635.1,290.8 612.0,302.4" fill="#cecfcc" stroke="#cecfcc" stroke-width="4.2" stroke-linejoin="round"/><polygon points="591.3,292.4 614.6,280.6 635.2,290.8 611.9,302.5" fill="url(#dm)"/><path d="M612.2 295.1 l7 -4" stroke="#adadab" stroke-width=".9"/></g>
<g><polygon points="509.1,337.8 531.4,349.4 557.9,335.4 557.9,349.4 531.4,363.4 509.1,351.8" fill="#9d9d9b" stroke="#9d9d9b" stroke-width="6.4" stroke-linejoin="round"/><polygon points="534.6,349.4 557.9,335.4 557.9,349.4 534.6,363.4" fill="#b0b0ae" stroke="#b0b0ae" stroke-width="6.4" stroke-linejoin="round"/><polygon points="509.1,345.5 531.4,357.1 557.9,343.1 557.9,349.4 531.4,363.4 509.1,351.8" fill="#000" opacity=".11" stroke="#000" stroke-width="6.4" stroke-linejoin="round"/><polyline points="509.1,354.4 531.4,366.0 557.9,352.0" fill="none" stroke="#7c7c7a" stroke-width="1.8" stroke-linecap="round" stroke-linejoin="round" opacity=".75"/><polygon points="509.1,337.8 535.6,323.7 557.9,335.4 531.4,349.4" fill="#bdbdbb" stroke="#bdbdbb" stroke-width="5.2" stroke-linejoin="round"/><polygon points="510.4,337.7 535.4,325.0 556.6,335.5 531.6,348.2" fill="#cecfcc" stroke="#cecfcc" stroke-width="4.2" stroke-linejoin="round"/><polygon points="510.3,337.7 535.4,324.9 556.7,335.4 531.6,348.3" fill="url(#dm)"/><path d="M532.5 340.1 l7 -4" stroke="#adadab" stroke-width=".9"/></g>
<g><polygon points="461.6,365.9 483.3,377.3 508.4,364.1 508.4,378.1 483.3,391.3 461.6,379.9" fill="#9d9d9b" stroke="#9d9d9b" stroke-width="6.4" stroke-linejoin="round"/><polygon points="486.5,377.3 508.4,364.1 508.4,378.1 486.5,391.3" fill="#b0b0ae" stroke="#b0b0ae" stroke-width="6.4" stroke-linejoin="round"/><polygon points="461.6,373.6 483.3,385.0 508.4,371.8 508.4,378.1 483.3,391.3 461.6,379.9" fill="#000" opacity=".11" stroke="#000" stroke-width="6.4" stroke-linejoin="round"/><polyline points="461.6,382.5 483.3,393.9 508.4,380.7" fill="none" stroke="#7c7c7a" stroke-width="1.8" stroke-linecap="round" stroke-linejoin="round" opacity=".75"/><polygon points="461.6,365.9 486.7,352.7 508.4,364.1 483.3,377.3" fill="#bdbdbb" stroke="#bdbdbb" stroke-width="5.2" stroke-linejoin="round"/><polygon points="462.9,365.9 486.5,354.0 507.1,364.1 483.5,376.0" fill="#cecfcc" stroke="#cecfcc" stroke-width="4.2" stroke-linejoin="round"/><polygon points="462.8,365.9 486.5,353.9 507.2,364.1 483.5,376.1" fill="url(#dm)"/><path d="M484.0 368.5 l7 -4" stroke="#adadab" stroke-width=".9"/></g>
<g><polygon points="380.1,411.2 401.6,422.4 424.4,410.6 424.4,424.6 401.6,436.4 380.1,425.2" fill="#9d9d9b" stroke="#9d9d9b" stroke-width="6.4" stroke-linejoin="round"/><polygon points="404.8,422.4 424.4,410.6 424.4,424.6 404.8,436.4" fill="#b0b0ae" stroke="#b0b0ae" stroke-width="6.4" stroke-linejoin="round"/><polygon points="380.1,418.9 401.6,430.1 424.4,418.3 424.4,424.6 401.6,436.4 380.1,425.2" fill="#000" opacity=".11" stroke="#000" stroke-width="6.4" stroke-linejoin="round"/><polyline points="380.1,427.8 401.6,439.0 424.4,427.2" fill="none" stroke="#7c7c7a" stroke-width="1.8" stroke-linecap="round" stroke-linejoin="round" opacity=".75"/><polygon points="380.1,411.2 402.9,399.3 424.4,410.6 401.6,422.4" fill="#bdbdbb" stroke="#bdbdbb" stroke-width="5.2" stroke-linejoin="round"/><polygon points="381.4,411.1 402.8,400.6 423.1,410.6 401.7,421.1" fill="#cecfcc" stroke="#cecfcc" stroke-width="4.2" stroke-linejoin="round"/><polygon points="381.3,411.1 402.8,400.5 423.2,410.6 401.7,421.2" fill="url(#dm)"/><path d="M401.2 414.4 l7 -4" stroke="#adadab" stroke-width=".9"/></g>
<g stroke-linecap="butt"><path d="M390.0 440.0 L659.5 285.0" stroke="#b6b6b4" stroke-width="6.4"/><path d="M390.0 440.0 L659.5 285.0" stroke="#525250" stroke-width="4.5"/><path d="M390.0 439.9 L659.5 284.9" stroke="#b4b4b2" stroke-width="1.9"/><path d="M390.6 436.5 l0 7" stroke="#333331" stroke-width="1.8"/></g>
<g><polygon points="620.6,310.0 643.6,322.1 667.9,309.4 667.9,323.4 643.6,336.1 620.6,324.0" fill="#9d9d9b" stroke="#9d9d9b" stroke-width="6.4" stroke-linejoin="round"/><polygon points="646.8,322.1 667.9,309.4 667.9,323.4 646.8,336.1" fill="#b0b0ae" stroke="#b0b0ae" stroke-width="6.4" stroke-linejoin="round"/><polygon points="620.6,317.7 643.6,329.8 667.9,317.1 667.9,323.4 643.6,336.1 620.6,324.0" fill="#000" opacity=".11" stroke="#000" stroke-width="6.4" stroke-linejoin="round"/><polyline points="620.6,326.6 643.6,338.7 667.9,326.0" fill="none" stroke="#7c7c7a" stroke-width="1.8" stroke-linecap="round" stroke-linejoin="round" opacity=".75"/><polygon points="620.6,310.0 644.9,297.3 667.9,309.4 643.6,322.1" fill="#bdbdbb" stroke="#bdbdbb" stroke-width="5.2" stroke-linejoin="round"/><polygon points="621.9,310.0 644.8,298.6 666.6,309.4 643.7,320.8" fill="#cecfcc" stroke="#cecfcc" stroke-width="4.2" stroke-linejoin="round"/><polygon points="621.8,310.0 644.8,298.5 666.7,309.4 643.7,320.9" fill="url(#dm)"/><path d="M643.2 313.2 l7 -4" stroke="#adadab" stroke-width=".9"/></g>
<g><polygon points="538.6,355.9 561.3,367.8 586.9,354.3 586.9,368.3 561.3,381.8 538.6,369.9" fill="#9d9d9b" stroke="#9d9d9b" stroke-width="6.4" stroke-linejoin="round"/><polygon points="564.5,367.8 586.9,354.3 586.9,368.3 564.5,381.8" fill="#b0b0ae" stroke="#b0b0ae" stroke-width="6.4" stroke-linejoin="round"/><polygon points="538.6,363.6 561.3,375.5 586.9,362.0 586.9,368.3 561.3,381.8 538.6,369.9" fill="#000" opacity=".11" stroke="#000" stroke-width="6.4" stroke-linejoin="round"/><polyline points="538.6,372.5 561.3,384.4 586.9,370.9" fill="none" stroke="#7c7c7a" stroke-width="1.8" stroke-linecap="round" stroke-linejoin="round" opacity=".75"/><polygon points="538.6,355.9 564.2,342.4 586.9,354.3 561.3,367.8" fill="#bdbdbb" stroke="#bdbdbb" stroke-width="5.2" stroke-linejoin="round"/><polygon points="539.9,355.9 564.1,343.7 585.6,354.4 561.4,366.5" fill="#cecfcc" stroke="#cecfcc" stroke-width="4.2" stroke-linejoin="round"/><polygon points="539.8,355.9 564.1,343.6 585.7,354.3 561.4,366.6" fill="url(#dm)"/><path d="M561.8 358.6 l7 -4" stroke="#adadab" stroke-width=".9"/></g>
<g><polygon points="489.6,383.8 511.8,395.4 537.4,381.9 537.4,395.9 511.8,409.4 489.6,397.8" fill="#9d9d9b" stroke="#9d9d9b" stroke-width="6.4" stroke-linejoin="round"/><polygon points="515.0,395.4 537.4,381.9 537.4,395.9 515.0,409.4" fill="#b0b0ae" stroke="#b0b0ae" stroke-width="6.4" stroke-linejoin="round"/><polygon points="489.6,391.5 511.8,403.1 537.4,389.6 537.4,395.9 511.8,409.4 489.6,397.8" fill="#000" opacity=".11" stroke="#000" stroke-width="6.4" stroke-linejoin="round"/><polyline points="489.6,400.4 511.8,412.0 537.4,398.5" fill="none" stroke="#7c7c7a" stroke-width="1.8" stroke-linecap="round" stroke-linejoin="round" opacity=".75"/><polygon points="489.6,383.8 515.2,370.3 537.4,381.9 511.8,395.4" fill="#bdbdbb" stroke="#bdbdbb" stroke-width="5.2" stroke-linejoin="round"/><polygon points="490.9,383.7 515.0,371.5 536.1,381.9 512.0,394.1" fill="#cecfcc" stroke="#cecfcc" stroke-width="4.2" stroke-linejoin="round"/><polygon points="490.8,383.7 515.0,371.4 536.2,381.9 512.0,394.2" fill="url(#dm)"/><path d="M512.5 386.3 l7 -4" stroke="#adadab" stroke-width=".9"/></g>
<g><polygon points="416.6,430.4 438.3,441.7 463.4,428.5 463.4,443.5 438.3,456.7 416.6,445.4" fill="#858583" stroke="#858583" stroke-width="6.4" stroke-linejoin="round"/><polygon points="441.5,441.7 463.4,428.5 463.4,443.5 441.5,456.7" fill="#9a9a98" stroke="#9a9a98" stroke-width="6.4" stroke-linejoin="round"/><polygon points="416.6,438.6 438.3,449.9 463.4,436.7 463.4,443.5 438.3,456.7 416.6,445.4" fill="#000" opacity=".11" stroke="#000" stroke-width="6.4" stroke-linejoin="round"/><polyline points="416.6,448.0 438.3,459.3 463.4,446.1" fill="none" stroke="#7c7c7a" stroke-width="1.8" stroke-linecap="round" stroke-linejoin="round" opacity=".75"/><polygon points="416.6,430.4 441.7,417.1 463.4,428.5 438.3,441.7" fill="#bdbdbb" stroke="#bdbdbb" stroke-width="5.2" stroke-linejoin="round"/><polygon points="417.9,430.3 441.5,418.4 462.1,428.5 438.5,440.4" fill="#cecfcc" stroke="#cecfcc" stroke-width="4.2" stroke-linejoin="round"/><polygon points="417.8,430.3 441.5,418.3 462.2,428.5 438.5,440.5" fill="url(#dm)"/><path d="M439.0 432.9 l7 -4" stroke="#adadab" stroke-width=".9"/></g>
<g><polygon points="571.5,330.7 604.5,348.8 637.0,331.2 637.0,336.2 604.5,353.8 571.5,335.7" fill="#9d9d9b" stroke="#9d9d9b" stroke-width="5.2" stroke-linejoin="round"/><polygon points="607.1,348.8 637.0,331.2 637.0,336.2 607.1,353.8" fill="#b0b0ae" stroke="#b0b0ae" stroke-width="5.2" stroke-linejoin="round"/><polygon points="571.5,333.5 604.5,351.6 637.0,334.0 637.0,336.2 604.5,353.8 571.5,335.7" fill="#000" opacity=".11" stroke="#000" stroke-width="5.2" stroke-linejoin="round"/><polyline points="571.5,337.7 604.5,355.8 637.0,338.2" fill="none" stroke="#7c7c7a" stroke-width="1.8" stroke-linecap="round" stroke-linejoin="round" opacity=".75"/><polygon points="575.0,333.3 575.0,328.3 599.8,314.6 608.3,314.7 633.5,328.7 633.5,333.7 608.7,347.3 600.2,347.3" fill="#dededc" stroke="#dededc" stroke-width="2" stroke-linejoin="round"/><polygon points="577.2,333.1 577.2,328.5 600.4,316.8 607.8,316.8 631.3,328.9 631.3,333.5 608.1,345.2 600.7,345.1" fill="#cecfcc" stroke="#cecfcc" stroke-width="2" stroke-linejoin="round"/><polygon points="577.4,333.1 577.4,328.5 600.4,316.9 607.7,317.0 631.1,328.9 631.1,333.5 608.1,345.0 600.8,344.9" fill="url(#dm)"/><circle cx="571.7" cy="330.7" r="1.5" fill="#868684"/><circle cx="571.4" cy="330.4" r=".7" fill="#e4e4e2"/><circle cx="604.0" cy="313.3" r="1.5" fill="#868684"/><circle cx="603.7" cy="313.0" r=".7" fill="#e4e4e2"/><circle cx="636.8" cy="331.2" r="1.5" fill="#868684"/><circle cx="636.5" cy="330.9" r=".7" fill="#e4e4e2"/><circle cx="604.5" cy="348.6" r="1.5" fill="#868684"/><circle cx="604.2" cy="348.3" r=".7" fill="#e4e4e2"/><path d="M600.2 333.0 l8 -4.5" stroke="#a9a9a7" stroke-width="1"/></g>
<g><polygon points="441.5,405.7 473.6,423.3 507.5,404.8 507.5,409.8 473.6,428.3 441.5,410.7" fill="#9d9d9b" stroke="#9d9d9b" stroke-width="5.2" stroke-linejoin="round"/><polygon points="476.2,423.3 507.5,404.8 507.5,409.8 476.2,428.3" fill="#b0b0ae" stroke="#b0b0ae" stroke-width="5.2" stroke-linejoin="round"/><polygon points="441.5,408.4 473.6,426.0 507.5,407.6 507.5,409.8 473.6,428.3 441.5,410.7" fill="#000" opacity=".11" stroke="#000" stroke-width="5.2" stroke-linejoin="round"/><polyline points="441.5,412.7 473.6,430.3 507.5,411.8" fill="none" stroke="#7c7c7a" stroke-width="1.8" stroke-linecap="round" stroke-linejoin="round" opacity=".75"/><polygon points="444.9,408.1 445.2,403.1 471.0,388.9 479.6,388.7 504.1,402.4 503.8,407.4 478.0,421.6 469.4,421.8" fill="#dededc" stroke="#dededc" stroke-width="2" stroke-linejoin="round"/><polygon points="447.1,407.9 447.4,403.3 471.5,391.0 479.0,390.9 501.9,402.6 501.6,407.2 477.5,419.5 470.0,419.7" fill="#cecfcc" stroke="#cecfcc" stroke-width="2" stroke-linejoin="round"/><polygon points="447.3,407.9 447.6,403.3 471.5,391.2 478.9,391.0 501.7,402.6 501.4,407.2 477.5,419.3 470.1,419.5" fill="url(#dm)"/><circle cx="441.7" cy="405.7" r="1.5" fill="#868684"/><circle cx="441.4" cy="405.4" r=".7" fill="#e4e4e2"/><circle cx="475.4" cy="387.5" r="1.5" fill="#868684"/><circle cx="475.1" cy="387.2" r=".7" fill="#e4e4e2"/><circle cx="507.3" cy="404.8" r="1.5" fill="#868684"/><circle cx="507.0" cy="404.5" r=".7" fill="#e4e4e2"/><circle cx="473.6" cy="423.1" r="1.5" fill="#868684"/><circle cx="473.3" cy="422.8" r=".7" fill="#e4e4e2"/><path d="M470.5 407.3 l8 -4.5" stroke="#a9a9a7" stroke-width="1"/></g>
<g stroke-linecap="butt"><path d="M420.0 460.0 L691.0 303.5" stroke="#b6b6b4" stroke-width="6.4"/><path d="M420.0 460.0 L691.0 303.5" stroke="#525250" stroke-width="4.5"/><path d="M420.0 459.9 L691.0 303.4" stroke="#b4b4b2" stroke-width="1.9"/><path d="M420.6 456.5 l0 7" stroke="#333331" stroke-width="1.8"/></g>
<g><polygon points="400.0,427.0 434.0,407.7 468.5,427.5 434.5,446.8" fill="none" stroke="#555552" stroke-width="4" stroke-linejoin="miter"/><polygon points="400.0,426.1 434.0,406.8 468.5,426.6 434.5,445.9" fill="none" stroke="#8c8c8a" stroke-width="1.1" stroke-linejoin="miter"/><path d="M403.0 427.8 L464.5 427.8" stroke="#70757a" stroke-width="3"/><path d="M403.0 427.3 L464.5 427.3" stroke="#c3c7cc" stroke-width="1.4"/></g>
<!-- connector lines -->
<g stroke="#f5a81f" stroke-width="1.4" fill="none">
<path d="M156.500 352.300 L228 352.300"/>
<path d="M190.800 385 L188.300 432.500"/>
<path d="M299 415 L317 399"/>
<path d="M456 420.5 L531.500 415"/>
</g>
<!-- cable from rail end to block -->
<path d="M229.3 354 L229.5 367.5 C230.500 373 236 379 246 387 C252 391.500 258 396 260.200 401 C261 405 257.500 406.500 254 404 C251 401.500 249 398.500 246 396 C241 392 238 389 234 387.700 C229 386 225 386.500 222 385.500 C218 384 215 381.500 213 379.500 L207.700 373.500" fill="none" stroke="#5a5a58" stroke-width="1"/>
<path d="M229 355 L229.4 367" stroke="#3a3c3e" stroke-width="2.2" stroke-dasharray="2.2 1.6"/>
<!-- concrete block -->
<g>
<polygon points="167.200,395.200 174,372 190.500,381.700 190.500,408" fill="#8c8c8a"/>
<polygon points="190.500,408 190.500,381.700 207.700,371.200 214.500,394.500" fill="#7c7c7a"/>
<polygon points="174,372 190.500,362.200 207.700,371.200 190.500,381.700" fill="#777775" stroke="#9c9c9a" stroke-width=".8"/>
<path d="M186.500 369.500 l0 -3.500 10 5 0 3.500" fill="none" stroke="#4e4e4c" stroke-width="1"/>
<path d="M190.500 381.700 L190.500 408" stroke="#9a9a98" stroke-width=".7"/>
</g>
<g fill="#f8b62a"><circle cx="229" cy="352.3" r="2.7"/><circle cx="190.800" cy="384.700" r="2.8"/><circle cx="317" cy="399" r="2.6"/><circle cx="456" cy="420.5" r="2.6"/></g>
<!-- Shackle circle -->
<circle cx="118.5" cy="362.8" r="37.6" fill="#fff"/>
<g clip-path="url(#c1)">
<path d="M80 320 L134 320 L137.300 337 L134.500 356.800 L121.700 352 L110.400 353.500 L99.800 350.500 L80 342 Z" fill="#6c6c6a"/>
<path d="M80 320 L122 320 L101 348.500 L80 340 Z" fill="#858583" opacity=".75"/>
<path d="M134 320 L140 330 L137.300 337 Z" fill="#6c6c6a"/>
<path d="M137.300 336.500 L145.800 341.200 L148.700 352.600 L154.300 362.500 L155.200 367.500 L145.800 362.500 L144.400 355.400 L134.500 356.800 Z" fill="#a9a9a7"/>
<path d="M137.300 337 L143 343 L144.400 355.400 L134.500 356.800 Z" fill="#8b8b89"/>
<path d="M145.800 341.200 L148.700 352.600 L154.300 362.500 L155.200 367.500 L150 361 L147 352 Z" fill="#c2c2c0"/>
<!-- rails -->
<path d="M105.500 345.600 L131 326.200" stroke="#3f3f3d" stroke-width="5.2"/>
<path d="M105 344.500 L130.500 325.100" stroke="#dadad8" stroke-width="2.2"/>
<path d="M112.500 349 L138 329.600" stroke="#3f3f3d" stroke-width="5.2"/>
<path d="M112 347.900 L137.500 328.500" stroke="#d0d0ce" stroke-width="2.2"/>
<!-- rings -->
<ellipse cx="106" cy="350.500" rx="4.6" ry="3" fill="none" stroke="#3d3d3b" stroke-width="1.7" transform="rotate(20 106 350.5)"/>
<ellipse cx="113.200" cy="351.500" rx="4.6" ry="3" fill="none" stroke="#3d3d3b" stroke-width="1.7" transform="rotate(20 113.2 351.5)"/>
<path d="M108.300 355 L113.200 368.500 L117.500 355" stroke="#4a4a48" stroke-width="1.3" fill="none"/>
<path d="M113.200 367 L113.200 400" stroke="#5b5b59" stroke-width="2"/>
<path d="M109.200 370.300 l6.500 1.600 M109.200 380.900 l6.500 1.600 M109.200 390.800 l6.500 1.600" stroke="#2f2f2d" stroke-width="2.6" stroke-linecap="round"/>
</g>
<circle cx="118.500" cy="362.800" r="37.6" fill="none" stroke="#f5a81f" stroke-width="2"/>
<!-- N-S circle -->
<circle cx="268.2" cy="443.1" r="36.6" fill="#fff"/>
<g clip-path="url(#c2)">
<!-- base plate -->
<path d="M269.200 421 L285.200 425 L278.100 457 C272 463 263 463.500 257.500 461 Z" fill="#8e979f"/>
<path d="M269.200 421 L272 421.700 L260.500 462 L257.500 461Z" fill="#b4bcc3"/>
<!-- left wall -->
<path d="M266.500 411.600 L269.200 411.600 L269.500 423 L259 460 L253.300 460.500 L253.500 449 Z" fill="#59626a"/>
<path d="M266.500 411.600 L267.600 411.600 L254.600 449.500 L253.500 449Z" fill="#9aa2a9"/>
<!-- right wall -->
<path d="M285.200 414.200 L288 414.200 L288 426 L281 453 L278.100 455 L278.100 444 Z" fill="#4f575e"/>
<path d="M285.200 414.200 L286.200 414.200 L279 444.500 L278.100 444Z" fill="#8f979e"/>
<!-- bolts -->
<g fill="#6d767e" stroke="#424a51" stroke-width=".8"><ellipse cx="274.600" cy="430.800" rx="3.8" ry="3"/><ellipse cx="271.700" cy="439.700" rx="3.9" ry="3.1"/><ellipse cx="268.900" cy="448.400" rx="4" ry="3.2"/><ellipse cx="266.100" cy="457" rx="4.1" ry="3.3"/></g>
<g fill="#c3cad0"><circle cx="274.800" cy="429.600" r="1.5"/><circle cx="271.900" cy="438.500" r="1.5"/><circle cx="269.100" cy="447.200" r="1.6"/><circle cx="266.300" cy="455.800" r="1.6"/></g>
<!-- U bolt -->
<path d="M252.600 446 L248.800 459 C247 468 250 470 256 470 L268 470.800 C274 471 276.500 467 277.800 462 L280.200 452.500" fill="none" stroke="#59626a" stroke-width="3.2" stroke-linecap="round"/>
<path d="M252.300 447 L248.600 459.500 C247 467 250 469 256 469.200" fill="none" stroke="#a9b1b8" stroke-width="1"/>
</g>
<circle cx="268.200" cy="443.100" r="36.6" fill="none" stroke="#f5a81f" stroke-width="2"/>
<!-- W-E circle -->
<circle cx="568.7" cy="424.5" r="37.5" fill="#fff"/>
<g clip-path="url(#c3)">
<path d="M537.700 424.200 L568.500 407.700 L602.200 425.700" fill="none" stroke="#4f5254" stroke-width="2" stroke-linejoin="miter"/>
<path d="M602.200 425.700 L570 442.200" fill="none" stroke="#55585a" stroke-width="2"/>
<path d="M537.700 424.200 L570 442.200" fill="none" stroke="#5d6062" stroke-width="3"/>
<path d="M537.700 423.400 L570 441.400" fill="none" stroke="#a0a3a5" stroke-width="1"/>
<path d="M544 425 L596 425" stroke="#6d7073" stroke-width="2.4"/>
<path d="M544 424.500 L596 424.500" stroke="#b7babd" stroke-width="1"/>
<path d="M537.200 424.500 l0 5 M569.800 442 l0 4 M602.500 425.500 l0 3.500" stroke="#4c4f52" stroke-width="1.8"/>
<path d="M534.500 430 l4.500 0 M566 445.800 l5 0 M601.500 428.500 l3 0" stroke="#4c4f52" stroke-width="1.5"/>
<path d="M579.500 432.500 l12 0" stroke="#4c4f52" stroke-width="1.4"/>
<path d="M585.500 429.500 l0 5 M586 433.500 q0 4 4 4 l1.500 0 q3 0 3 -2.500 q0 -2.500 -3 -2.500" fill="none" stroke="#4c4f52" stroke-width="1.2"/>
</g>
<circle cx="568.700" cy="424.500" r="37.5" fill="none" stroke="#f5a81f" stroke-width="2"/>
<!-- shackle ring at truss (left) -->
<ellipse cx="149" cy="261.5" rx="3" ry="2.2" fill="none" stroke="#4a4a48" stroke-width="1.1"/>
<!-- logo -->
<path d="M712.5 29.52 A27.6 27.6 0 1 1 712.5 70.48 A26.26 26.26 0 1 0 712.5 29.52Z" fill="url(#lgA)"/>
<!-- TEXT -->
<g font-family="'Liberation Sans',sans-serif" fill="#151515" stroke="#151515" stroke-width=".65" stroke-linejoin="round" opacity=".995">
<text id="title" x="473.5" y="137.3" font-size="21" textLength="315" lengthAdjust="spacingAndGlyphs">Anchoring System-Model TWG03</text>
<text id="l1" x="15.5" y="359" font-size="16" textLength="56" lengthAdjust="spacingAndGlyphs">Shackle</text>
<text id="l2" x="115" y="457.5" font-size="16" textLength="107.5" lengthAdjust="spacingAndGlyphs">Concrete Block</text>
<text id="l3" x="227.8" y="506" font-size="16" textLength="143" lengthAdjust="spacingAndGlyphs">Anchoring Truss N-S</text>
<text id="l4" x="534" y="478.7" font-size="16" textLength="145.5" lengthAdjust="spacingAndGlyphs">Anchoring Truss W-E</text>
</g>
<g font-family="'Liberation Sans',sans-serif" font-weight="bold" font-size="18.5" opacity=".995">
<text id="lg" x="677" y="57"><tspan textLength="66.5" lengthAdjust="spacingAndGlyphs" fill="url(#lgO)" stroke="url(#lgO)" stroke-width=".7">SOLAR</tspan><tspan x="744.3" textLength="52.3" lengthAdjust="spacingAndGlyphs" fill="url(#lgG)" stroke="url(#lgG)" stroke-width=".7">FIRST</tspan></text>
</g>

</svg>

</body></html>
